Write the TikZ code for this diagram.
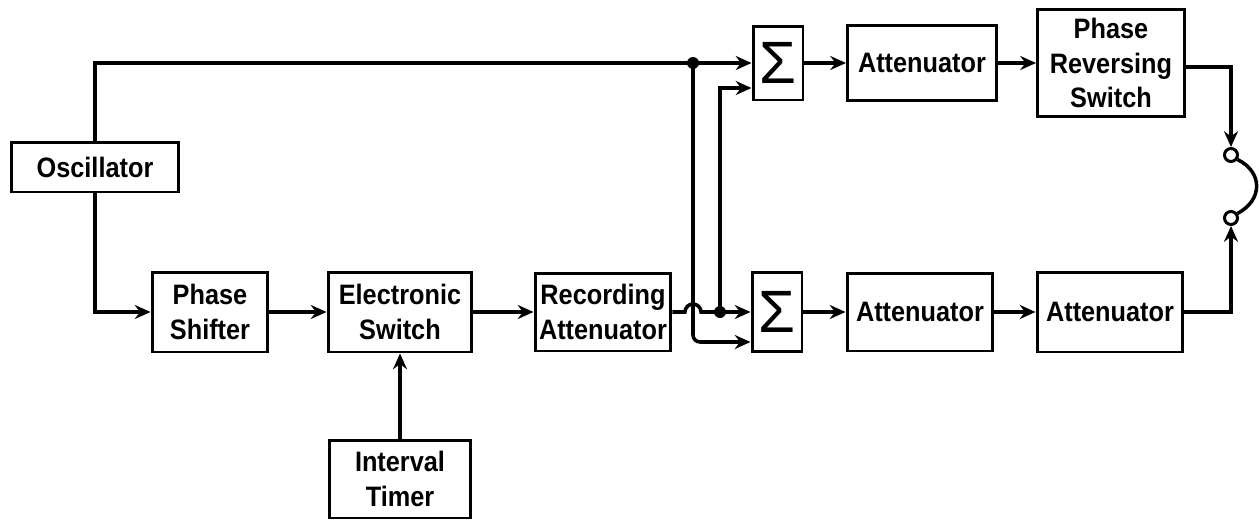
\documentclass[tikz,border=0pt]{standalone}
\usepackage{fontspec}
\setmainfont{Liberation Sans}[FakeStretch=0.9]
\newfontfamily\sigmafont{Liberation Sans}
\usetikzlibrary{arrows.meta,calc}
\begin{document}
\begin{tikzpicture}[x=0.02cm,y=-0.02cm,
  line width=2pt,
  box/.style={draw,line width=1.7pt,inner sep=0pt,align=center,
    font=\fontsize{16}{19.5}\selectfont\bfseries},
  sumbox/.style={draw,line width=1.7pt,inner sep=0pt,minimum width=1.0cm,
    font=\sigmafont\fontsize{34}{34}\selectfont},
  arr/.style={-{Stealth[length=9pt,width=8pt,inset=3pt]}},
  term/.style={circle,draw,line width=1.7pt,inner sep=0pt,minimum size=0.26cm},
  dotfill/.style={fill=black}]
\useasboundingbox (0,0) rectangle (1259,521);
% nodes
\node[box,minimum width=3.34cm,minimum height=1.0cm] (osc) at (95,167) {Oscillator};
\node[box,minimum width=2.32cm,minimum height=1.6cm] (ps) at (210,312) {Phase\\Shifter};
\node[box,minimum width=2.88cm,minimum height=1.6cm] (es) at (400,312) {Electronic\\Switch};
\node[box,minimum width=2.84cm,minimum height=1.56cm] (it) at (400,479) {Interval\\Timer};
\node[box,minimum width=2.72cm,minimum height=1.56cm] (ra) at (603,312) {Recording\\Attenuator};
\node[sumbox,minimum height=1.48cm] (s1) at (778,63) {Σ};
\node[box,minimum width=2.98cm,minimum height=1.5cm] (a1) at (922,63) {Attenuator};
\node[box,minimum width=2.94cm,minimum height=2.16cm] (prs) at (1111,63) {Phase\\Reversing\\Switch};
\node[sumbox,minimum height=1.58cm] (s2) at (777,312) {Σ};
\node[box,minimum width=2.92cm,minimum height=1.56cm] (a2) at (920,312) {Attenuator};
\node[box,minimum width=2.92cm,minimum height=1.6cm] (a3) at (1110,312) {Attenuator};
\node[term] (c1) at (1231,155) {};
\node[term] (c2) at (1231,218) {};
% junction coordinates
\coordinate (d1) at (693,63);
\coordinate (d2) at (720,312);
\coordinate (hopL) at (685,312);
\coordinate (s1in2) at ($(s1.west)+(0,25)$);
\coordinate (s2in2) at ($(s2.west)+(0,30)$);
% connectors
\draw (osc.north) |- (d1);
\draw[arr] (d1) -- (s1.west);
\draw[arr] (osc.south) |- (ps.west);
\draw[arr] (ps) -- (es);
\draw[arr] (es) -- (ra);
\draw[arr] (it) -- (es);
\draw (ra.east) -- (hopL) arc[start angle=180,end angle=0,radius=0.16cm] -- (d2);
\draw[arr] (d2) -- (s2.west);
\draw[arr,rounded corners=4pt] (d1) |- (s2in2);
\draw[arr] (d2) |- (s1in2);
\draw[arr] (s1) -- (a1);
\draw[arr] (a1) -- (prs);
\draw[arr] (s2) -- (a2);
\draw[arr] (a2) -- (a3);
\draw[arr] ($(prs.east)+(0,4)$) -| (c1.north);
\draw[arr] (a3.east) -| (c2.south);
\draw (c1.-35) .. controls (1263,172) and (1263,200) .. (c2.35);
\fill[dotfill] (d1) circle (0.12cm);
\fill[dotfill] (d2) circle (0.12cm);
\end{tikzpicture}
\end{document}
